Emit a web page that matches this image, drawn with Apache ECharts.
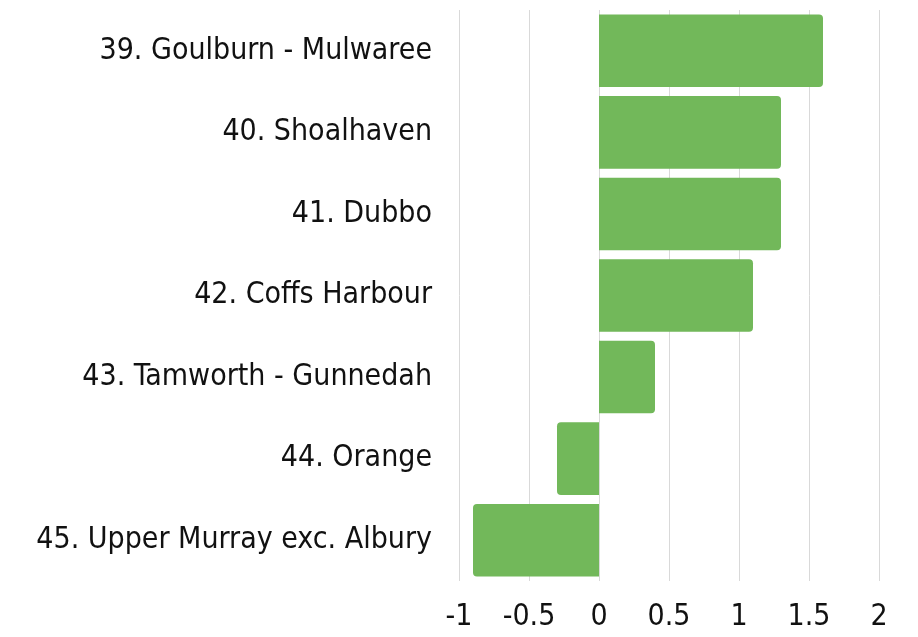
<!DOCTYPE html>
<html>
<head>
<meta charset="utf-8">
<script src="https://cdn.jsdelivr.net/npm/echarts@6/dist/echarts.min.js"></script>
<style>
  html, body { margin: 0; padding: 0; background: #fff; }
  #chart { width: 918px; height: 637px; }
</style>
</head>
<body>
<div id="chart"></div>
<script>
// regions, top to bottom
var regions = [
  '39. Goulburn - Mulwaree',
  '40. Shoalhaven',
  '41. Dubbo',
  '42. Coffs Harbour',
  '43. Tamworth - Gunnedah',
  '44. Orange',
  '45. Upper Murray exc. Albury'
];
var values = [1.6, 1.3, 1.3, 1.1, 0.4, -0.3, -0.9];
var xTicks = [-1, 2, 0.5]; // min, max, step

var font = '"DejaVu Sans Condensed", "Liberation Sans Narrow", "Roboto", sans-serif';

var chart = echarts.init(document.getElementById('chart'));

// category axis goes bottom-up in echarts, so reverse
var cats = regions.slice().reverse();
var barData = values.slice().reverse().map(function (v) {
  return {
    value: v,
    itemStyle: { borderRadius: v >= 0 ? [0, 4, 4, 0] : [4, 0, 0, 4] }
  };
});

chart.setOption({
  animation: false,
  grid: { left: 459, right: 39, top: 10, bottom: 56, containLabel: false },
  xAxis: {
    type: 'value',
    min: xTicks[0],
    max: xTicks[1],
    interval: xTicks[2],
    axisLine: { show: false },
    axisTick: { show: false },
    splitLine: { lineStyle: { color: '#d9d9d9', width: 1 } },
    axisLabel: {
      color: '#111',
      fontFamily: font,
      fontSize: 30,
      margin: 21
    }
  },
  yAxis: {
    type: 'category',
    data: cats,
    axisLine: { show: false },
    axisTick: { show: false },
    axisLabel: {
      color: '#111',
      fontFamily: font,
      fontSize: 30,
      margin: 27
    }
  },
  series: [{
    type: 'bar',
    data: barData,
    barCategoryGap: '11%',
    itemStyle: { color: '#72b85a' }
  }]
});
</script>
</body>
</html>
